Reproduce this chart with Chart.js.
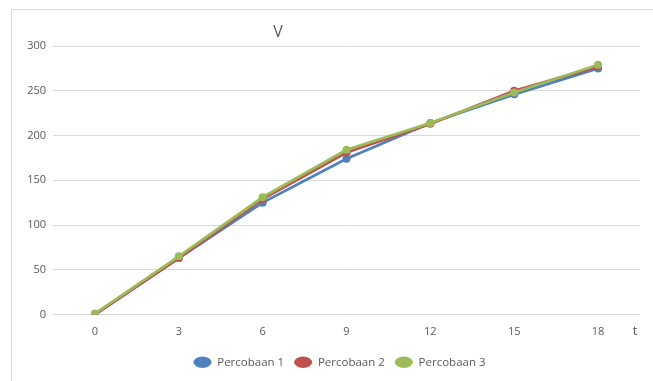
<!DOCTYPE html>
<html>
<head>
<meta charset="utf-8">
<script src="https://cdn.jsdelivr.net/npm/chart.js@4.4.0/dist/chart.umd.min.js"></script>
<style>
  body { margin: 0; background: #fff; }
  #wrap { position: relative; width: 653px; height: 381px; overflow: hidden; background: #fff; }
  #frame { position: absolute; left: 11px; top: 9px; width: 700px; height: 420px; border: 1px solid #d9d9d9; }
  canvas { position: absolute; left: 0; top: 0; }
</style>
</head>
<body>
<div id="wrap">
  <div id="frame"></div>
  <!-- the excel chart box runs past the right edge of the screenshot, so the canvas does too -->
  <canvas id="chart" width="679" height="381"></canvas>
</div>
<script>
// data
let times = ['0', '3', '6', '9', '12', '15', '18'];
let percobaan1 = [0, 63, 125, 174, 214, 246, 275];
let percobaan2 = [0, 63, 129, 181, 213, 250, 277];
let percobaan3 = [1, 65, 131, 184, 214, 248, 279];
let seriesNames = ['Percobaan 1', 'Percobaan 2', 'Percobaan 3'];
let seriesColors = ['#4F81BD', '#C0504D', '#9BBB59'];
let yTicks = [0, 50, 100, 150, 200, 250, 300];

const font = "'Open Sans', 'Noto Sans', sans-serif";

// axis titles "V" and "t" sit like Excel's free text labels
const axisText = {
    id: 'axisText',
    afterDraw(chart) {
        const ctx = chart.ctx;
        ctx.save();
        ctx.fillStyle = '#595959';
        ctx.textBaseline = 'middle';
        ctx.textAlign = 'center';
        ctx.font = '16px ' + font;
        ctx.fillText('V', 278, 32);
        ctx.font = '13px ' + font;
        ctx.fillText('t', 635, 331);
        ctx.restore();
    }
};

function makeSet(i, values, order) {
    return {
        label: seriesNames[i],
        data: values,
        borderColor: seriesColors[i],
        backgroundColor: seriesColors[i],
        borderWidth: 2.8,
        pointRadius: 4,
        pointHoverRadius: 4,
        pointBorderWidth: 0,
        tension: 0,
        order: order
    };
}

new Chart(document.getElementById('chart'), {
    type: 'line',
    data: {
        labels: times,
        datasets: [
            makeSet(0, percobaan1, 3),
            makeSet(1, percobaan2, 2),
            makeSet(2, percobaan3, 1)
        ]
    },
    options: {
        responsive: false,
        animation: false,
        layout: { padding: { top: 46, right: 0, bottom: 3, left: 0 } },
        plugins: {
            legend: {
                position: 'bottom',
                labels: {
                    usePointStyle: true,
                    pointStyle: 'circle',
                    pointStyleWidth: 18,
                    boxHeight: 8,
                    padding: 10,
                    color: '#595959',
                    font: { family: font, size: 11.5 },
                    sort: (a, b) => a.datasetIndex - b.datasetIndex
                }
            },
            tooltip: { enabled: false }
        },
        scales: {
            x: {
                offset: true,
                grid: { display: false, drawTicks: false },
                border: { display: false },
                ticks: { color: '#595959', font: { family: font, size: 11 }, padding: 11 },
                afterFit(scale) { scale.height = 32; }
            },
            y: {
                min: 0,
                max: 300,
                afterBuildTicks(scale) { scale.ticks = yTicks.map(v => ({ value: v })); },
                grid: { color: '#d9d9d9', lineWidth: 1, drawTicks: false },
                border: { display: false },
                ticks: { color: '#595959', font: { family: font, size: 11 }, padding: 7 },
                afterFit(scale) { scale.width = 53; }
            },
            // empty right-hand strip so the plot ends where excel's does
            spacer: {
                type: 'linear',
                position: 'right',
                grid: { display: false },
                border: { display: false },
                ticks: { display: false },
                afterFit(scale) { scale.width = 39; }
            }
        }
    },
    plugins: [axisText]
});
</script>
</body>
</html>
